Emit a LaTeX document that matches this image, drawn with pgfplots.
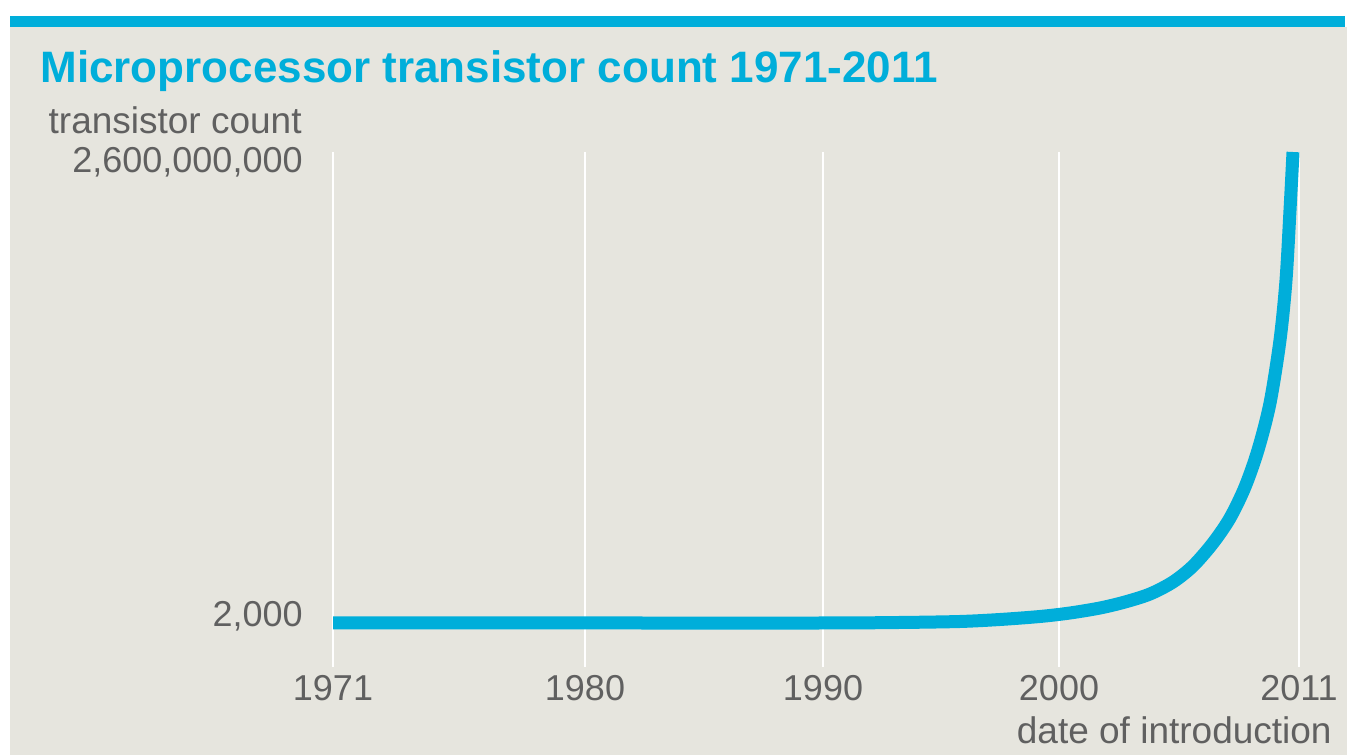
\documentclass[border=0pt]{standalone}
\usepackage{fontspec}
\setmainfont{Liberation Sans}
\usepackage{pgfplots}
\pgfplotsset{compat=1.18}
\definecolor{bg}{HTML}{E6E5DE}
\definecolor{cy}{HTML}{00AEDA}
\definecolor{lg}{HTML}{606060}
\begin{document}
\begin{tikzpicture}
\fill[white] (0,0) rectangle (673.5pt,-377.5pt);
\fill[bg] (5pt,-13.5pt) rectangle (673.5pt,-377.5pt);
\fill[cy] (5pt,-8pt) rectangle (672.5pt,-13.5pt);
\node[anchor=base west, inner sep=0pt, text=cy, font=\fontsize{22}{26}\selectfont\bfseries] at (20pt,-41pt) {Microprocessor transistor count 1971-2011};
\node[anchor=base east, inner sep=0pt, text=lg, font=\fontsize{18.5}{22}\selectfont] at (151pt,-66.5pt) {transistor count};
\node[anchor=base east, inner sep=0pt, text=lg, font=\fontsize{18.5}{22}\selectfont] at (666pt,-371.5pt) {date of introduction};
\begin{axis}[
  at={(166.5pt,-333.5pt)}, anchor=south west,
  scale only axis, width=483pt, height=257.5pt,
  xmin=333, xmax=1299, ymin=-2.43e8, ymax=2.6e9,
  scaled y ticks=false,
  axis line style={draw=none}, major tick length=0pt,
  xtick={333,585,823,1059,1299}, xticklabels={1971,1980,1990,2000,2011},
  xmajorgrids, grid style={white, line width=1.3pt},
  ytick={2000}, yticklabels={2{,}000},
  extra y ticks={2600000000}, extra y tick labels={2{,}600{,}000{,}000},
  extra y tick style={yticklabel style={yshift=-8pt}, grid=none},
  ticklabel style={font=\fontsize{18}{21}\selectfont, text=lg, inner sep=0pt},
  xticklabel style={anchor=base, yshift=-16.5pt},
  yticklabel style={anchor=base east, xshift=-15pt, yshift=-2pt},
  clip=false,
]
\addplot[cy, line width=6.5pt, smooth, tension=0.5] coordinates {
  (333,2000) (600,2000) (823,2000) (900,2.8e6) (960,8.3e6) (1000,19.3e6)
  (1040,35.9e6) (1070,55.2e6) (1100,82.8e6) (1125,115.9e6) (1150,160.1e6)
  (1173,226.3e6) (1193,314.6e6) (1213,441.6e6) (1230,579.6e6)
  (1245,750.7e6) (1258,955e6) (1270,1214e6) (1280,1562e6)
  (1286,1893e6) (1290,2280e6) (1293,2600e6)
};
\end{axis}
\pgfresetboundingbox
\path[use as bounding box] (0,0) rectangle (673.5pt,-377.5pt);
\end{tikzpicture}
\end{document}
